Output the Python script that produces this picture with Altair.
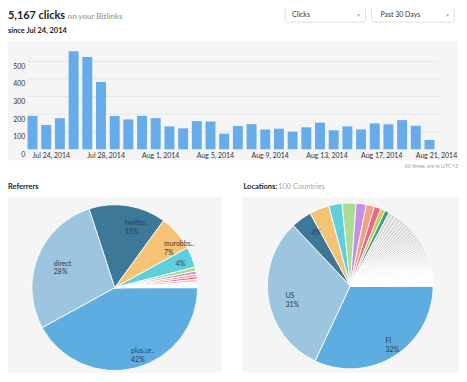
import math
import altair as alt
import pandas as pd

FONT = "Lato"
W, H = 454, 361

# ---------------- data ----------------
days = ["Jul 24, 2014", "Jul 25, 2014", "Jul 26, 2014", "Jul 27, 2014", "Jul 28, 2014",
        "Jul 29, 2014", "Jul 30, 2014", "Jul 31, 2014", "Aug 1, 2014", "Aug 2, 2014",
        "Aug 3, 2014", "Aug 4, 2014", "Aug 5, 2014", "Aug 6, 2014", "Aug 7, 2014",
        "Aug 8, 2014", "Aug 9, 2014", "Aug 10, 2014", "Aug 11, 2014", "Aug 12, 2014",
        "Aug 13, 2014", "Aug 14, 2014", "Aug 15, 2014", "Aug 16, 2014", "Aug 17, 2014",
        "Aug 18, 2014", "Aug 19, 2014", "Aug 20, 2014", "Aug 21, 2014", "Aug 22, 2014"]
clicks = [190, 138, 177, 557, 525, 383, 189, 170, 190, 177,
          130, 119, 160, 158, 89, 132, 143, 113, 117, 100,
          125, 151, 108, 130, 113, 147, 142, 166, 134, 53]
tick_days = ["Jul 24, 2014", "Jul 28, 2014", "Aug 1, 2014", "Aug 5, 2014",
             "Aug 9, 2014", "Aug 13, 2014", "Aug 17, 2014", "Aug 21, 2014"]
y_ticks = [0, 100, 200, 300, 400, 500]
grid_ticks = [100, 200, 300, 400, 500]

ref_names = ["plus.ur..", "direct", "twitter..", "murobbs..", "facebook.com", "t.co",
             "linkedin.com", "google.fi", "reddit.com", "feedly.com", "bit.ly",
             "mail.google.com", "hs.fi", "yle.fi", "news.ycombinator.com",
             "instagram.com", "plus.google.com"]
ref_values = [2170, 1447, 775, 362, 207, 40, 30, 26, 25, 28, 14, 11, 9, 8, 6, 5, 4]
ref_slots = ["c0", "c1", "c2", "c3", "c4", "c5", "c6", "c7", "c8", "c9",
             "gray", "gray", "gray", "gray", "gray", "gray", "gray"]
ref_label_names = ["plus.ur..", "direct", "twitter..", "murobbs..", ""]

loc_main_names = ["FI", "US", "SE", "RU", "EE", "DE", "GB", "FR", "NL", "ES", "CA"]
loc_main_values = [1653, 1602, 207, 200, 134, 140, 103, 83, 67, 46, 46]
loc_main_slots = ["c0", "c1", "c2", "c3", "c4", "c5", "c6", "c7", "c8", "c10", "c11"]
loc_other_names = ["DK", "NO", "IT", "JP", "IN", "AU", "BR", "PL", "CH", "AT",
                   "BE", "IE", "PT", "CZ", "HU", "GR", "TR", "UA", "LV", "LT",
                   "RO", "BG", "HR", "SI", "SK", "RS", "BY", "IS", "LU", "MT",
                   "CY", "IL", "AE", "SA", "EG", "ZA", "NG", "KE", "MA", "TN",
                   "MX", "AR", "CL", "CO", "PE", "VE", "EC", "UY", "CR", "PA",
                   "CN", "HK", "TW", "KR", "SG", "MY", "TH", "VN", "PH", "ID",
                   "PK", "BD", "LK", "NP", "NZ", "KZ", "GE", "AM", "AZ", "MD",
                   "MK", "AL", "BA", "ME", "QA", "KW", "BH", "OM", "JO", "LB",
                   "IR", "IQ", "DZ", "GH", "TZ", "UG", "ET", "CM", "SN"]
loc_other_values = [38, 36, 34, 32, 31, 30, 29, 28, 27, 26,
                    25, 24, 24, 23, 22, 22, 21, 20, 20, 19,
                    18, 18, 17, 16, 16, 15, 14, 14, 13, 12,
                    11, 10, 10, 9, 9, 8, 8, 7, 7, 7,
                    6, 6, 6, 5, 5, 5, 5, 4, 4, 4,
                    4, 4, 3, 3, 3, 3, 3, 3, 3, 2,
                    2, 2, 2, 2, 2, 2, 2, 2, 2, 1,
                    1, 1, 1, 1, 1, 1, 1, 1, 1, 1,
                    1, 1, 1, 1, 1, 1, 1, 1, 1]
loc_label_names = ["FI", "US", ""]

slot_domain = ["c0", "c1", "c2", "c3", "c4", "c5", "c6", "c7", "c8", "c9", "c10", "c11", "gray"]
slot_colors = ["#5dade0", "#9cc6df", "#3d7898", "#f6c274", "#5dcfdd", "#abdc94", "#c690df",
               "#eea383", "#ee6585", "#f3bccb", "#c9cb5a", "#3d9e8c", "#d6d6d6"]

title_main = "5,167 clicks"
title_sub = "on your Bitlinks"
since_text = "since Jul 24, 2014"
menu1 = "Clicks"
menu2 = "Past 30 Days"
tz_note = "All times are in UTC+3"
ref_title = "Referrers"
loc_title = "Locations:"
loc_sub = "100 Countries"

# ---------------- tables ----------------
def pie_table(names, values, slots, label_names):
    total = sum(values)
    rows = []
    for i, (n, v, s) in enumerate(zip(names, values, slots)):
        lab = ""
        if i < len(label_names):
            pct = f"{round(100 * v / total)}%"
            lab = f"{label_names[i]}\n{pct}" if label_names[i] else pct
        rows.append({"idx": i, "name": n, "value": v, "slot": s, "label": lab})
    return pd.DataFrame(rows)

ref_df = pie_table(ref_names, ref_values, ref_slots, ref_label_names)
loc_df = pie_table(loc_main_names + loc_other_names, loc_main_values + loc_other_values,
                   loc_main_slots + ["gray"] * len(loc_other_names), loc_label_names)
bars_df = pd.DataFrame({"day": days, "clicks": clicks})
grid_df = pd.DataFrame({"clicks": grid_ticks})
one = pd.DataFrame({"k": [0]})

# ---------------- helpers ----------------
def rect(x, x2, y, y2, **kw):
    return alt.Chart(one).mark_rect(**kw).encode(
        x=alt.value(x), x2=alt.value(x2), y=alt.value(y), y2=alt.value(y2))

def label(txt, x, y, **kw):
    kw.setdefault("font", FONT)
    return alt.Chart(one).mark_text(**kw).encode(
        x=alt.value(x), y=alt.value(y), text=alt.value(txt))

# ---------------- header ----------------
header = [
    label(title_main, 0, 4.5, fontSize=11, fontWeight="bold", color="#222222",
          align="left", baseline="alphabetic"),
    label(title_sub, 60, 4.5, fontSize=8, fontWeight="bold", color="#a6a6a6",
          align="left", baseline="alphabetic"),
    label(since_text, 0, 19.3, fontSize=7.5, fontWeight="bold", color="#222222",
          align="left", baseline="alphabetic"),
    rect(279, 360, -7, 8, fill="white", stroke="#d6d6d6", strokeWidth=0.8, cornerRadius=2),
    rect(366, 449, -7, 8, fill="white", stroke="#d6d6d6", strokeWidth=0.8, cornerRadius=2),
    label(menu1, 286, 0.5, fontSize=7, color="#333333", align="left", baseline="middle"),
    label(menu2, 375, 0.5, fontSize=7, color="#333333", align="left", baseline="middle"),
    label("▾", 352.5, 0.5, fontSize=6, color="#b5b5b5", align="center", baseline="middle"),
    label("▾", 442, 0.5, fontSize=6, color="#b5b5b5", align="center", baseline="middle"),
]

# ---------------- panels ----------------
panels = [
    rect(0, 453, 27, 147, fill="#f5f5f5"),
    rect(0, 215, 184, H, fill="#f5f5f5"),
    rect(236, 454, 184, H, fill="#f5f5f5"),
    label(tz_note, 453, 153, fontSize=5.5, color="#a0a0a0", align="right", baseline="middle"),
    label(ref_title, 0, 174, fontSize=7.5, fontWeight="bold", color="#222222",
          align="left", baseline="middle"),
    label(loc_title, 237, 174, fontSize=7.5, fontWeight="bold", color="#222222",
          align="left", baseline="middle"),
    label(loc_sub, 272, 174, fontSize=7.5, color="#a6a6a6", align="left", baseline="middle"),
]

# ---------------- bar chart ----------------
BASE = 136
x_enc = alt.X("day:O", sort=days,
              scale=alt.Scale(range=[19.7, 429.3], paddingInner=0.274, paddingOuter=0),
              axis=alt.Axis(values=tick_days, bandPosition=0, labelAlign="left", labelAngle=0,
                            labelBaseline="top", labelPadding=2.5, domain=False, ticks=False,
                            tickSize=0, grid=False, title=None, offset=-(H - BASE),
                            labelFontSize=7, labelFont=FONT, labelColor="#333333",
                            labelOverlap=False, zindex=2))
y_axis = alt.Axis(values=y_ticks, orient="left", offset=-17, domain=False, ticks=False,
                  tickSize=0, labelPadding=0, labelOffset=5, grid=False, title=None,
                  labelFontSize=7, labelFont=FONT, labelColor="#333333",
                  labelOverlap=False, zindex=2)
y_scale = alt.Scale(domain=[0, 600], range=[BASE, 29.8])

grid = alt.Chart(grid_df).mark_rule(color="#e2e2e2", strokeWidth=0.8).encode(
    y=alt.Y("clicks:Q", scale=y_scale, axis=y_axis),
    x=alt.value(19), x2=alt.value(433))
bars = alt.Chart(bars_df).mark_bar(color="#67acea").encode(
    x=x_enc, y=alt.Y("clicks:Q", scale=y_scale, axis=y_axis))

# ---------------- pies ----------------
theta_scale = alt.Scale(range=[math.pi / 2, math.pi / 2 + 2 * math.pi])
color_scale = alt.Scale(domain=slot_domain, range=slot_colors)

def pie(df, cx, cy):
    theta = alt.Theta("value:Q", stack=True, scale=theta_scale)
    arc = alt.Chart(df).mark_arc(outerRadius=83.5, stroke="white", strokeWidth=0.9).encode(
        theta=theta, order=alt.Order("idx:Q"), detail="idx:N",
        color=alt.Color("slot:N", scale=color_scale, legend=None),
        x=alt.value(cx), y=alt.value(cy))
    txt = alt.Chart(df).mark_text(radius=66, align="left", baseline="middle", lineBreak="\n",
                                  fontSize=7, font=FONT, color="#2b3e50", lineHeight=9).encode(
        theta=theta, order=alt.Order("idx:Q"), detail="idx:N", text="label:N",
        x=alt.value(cx), y=alt.value(cy))
    return alt.layer(arc, txt)

pie_ref = pie(ref_df, 107.5, 275.3)
pie_loc = pie(loc_df, 344.5, 273.5)

chart = alt.layer(*panels, *header, grid, bars, pie_ref, pie_loc).resolve_scale(
    theta="independent"
).properties(
    width=W, height=H,
    padding={"left": 0, "top": 5, "right": 0, "bottom": 0},
    autosize=alt.AutoSizeParams(type="none"),
    background="white",
).configure_view(stroke=None)

chart.save("out.html", embed_options={"renderer": "svg", "actions": False})
